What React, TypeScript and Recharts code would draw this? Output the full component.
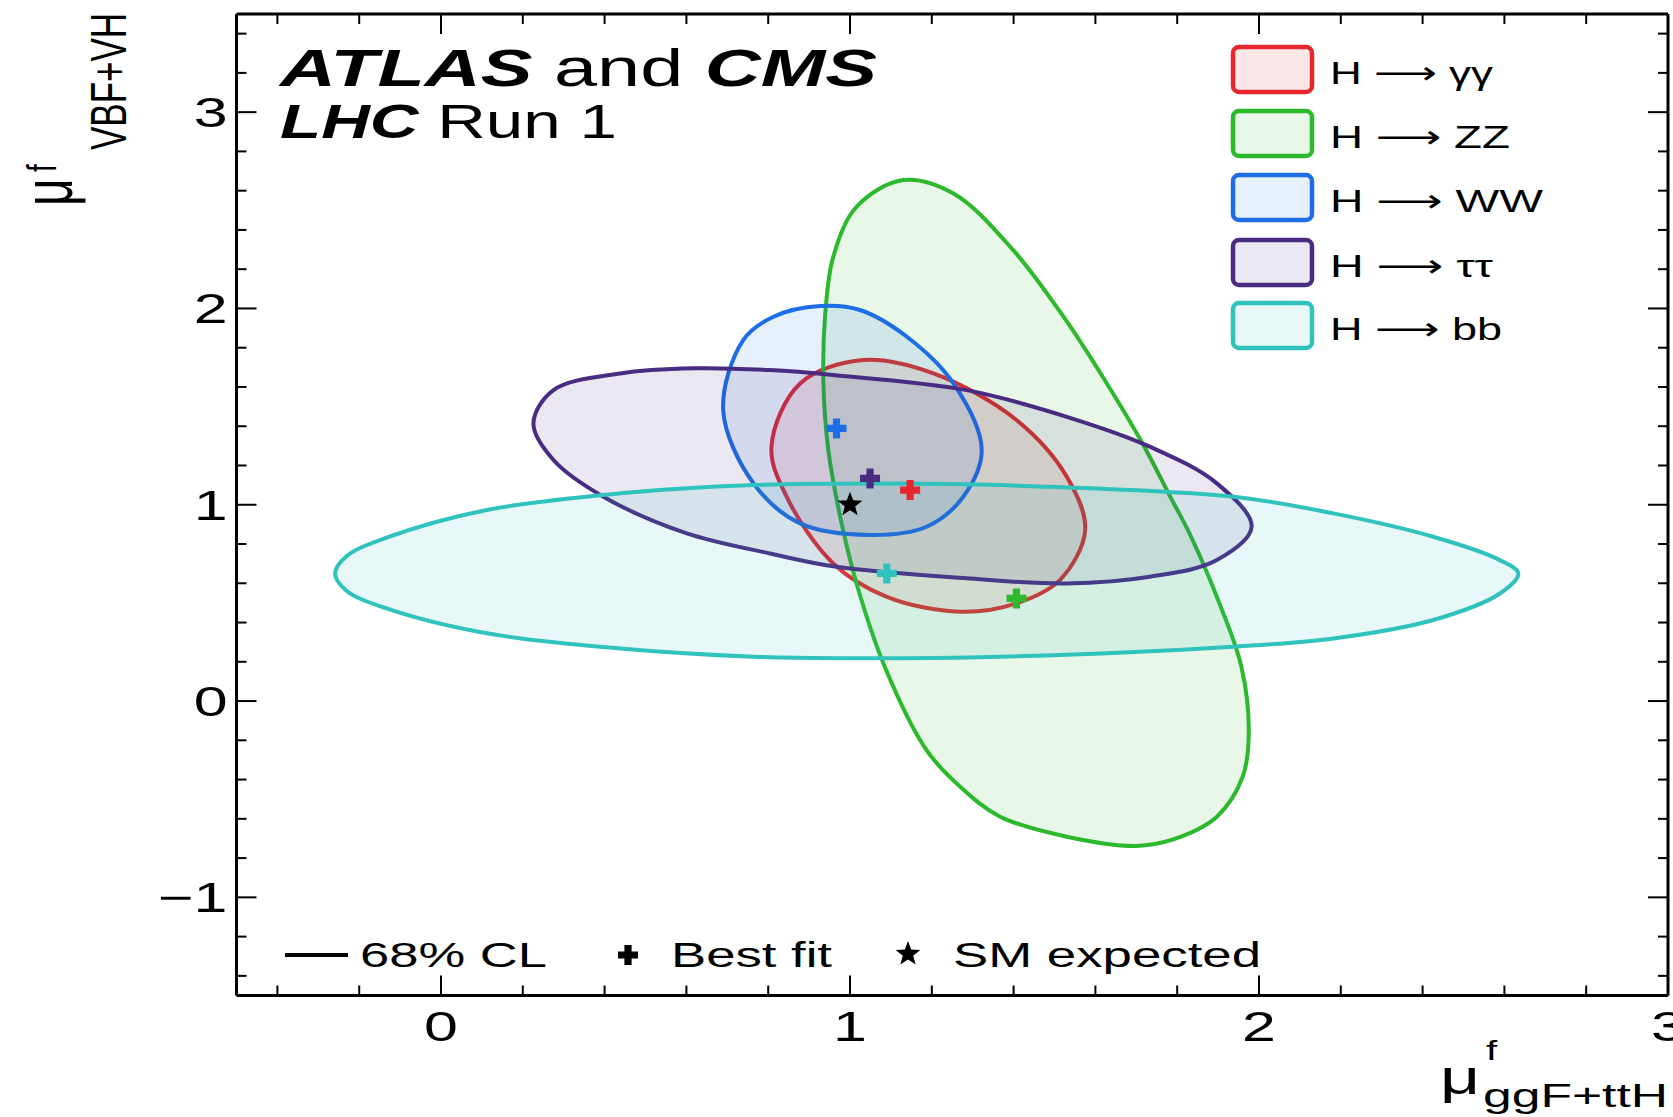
import React from "react";
import { ComposedChart, Scatter, XAxis, YAxis } from "recharts";

const FONT = '"Liberation Sans", Arial, Helvetica, sans-serif';
const ARROW_FONT = '"DejaVu Sans", sans-serif';
const STRETCH = 1.45;

const CHANNEL_HEAD = "H ";
const CHANNEL_TAIL = [" γγ", " ZZ", " WW", " ττ", " bb"];
const CHANNELS = ["H → γγ", "H → ZZ", "H → WW", "H → ττ", "H → bb"];
const LINE_COLORS = ["#e8262e", "#2cb92c", "#1c6de6", "#4a2b82", "#30c2bd"];
const LEGEND_TEXT_WIDTH = [163, 180, 213, 163, 172];

// 68% CL contours (going round each contour)
const GG_X = [1.033, 1.204, 1.407, 1.53, 1.575, 1.513, 1.407, 1.269, 1.09, 0.959, 0.845, 0.808, 0.878];
const GG_Y = [1.737, 1.669, 1.432, 1.143, 0.871, 0.616, 0.498, 0.455, 0.531, 0.701, 1.041, 1.296, 1.618];

const ZZ_X = [1.13, 1.253, 1.399, 1.522, 1.628, 1.715, 1.783, 1.83, 1.9, 1.957, 1.975, 1.96, 1.897, 1.79, 1.7, 1.53, 1.367, 1.269, 1.187, 1.085, 1.016, 0.976, 0.947, 0.935, 0.939, 0.959, 1.016];
const ZZ_Y = [2.654, 2.586, 2.297, 1.958, 1.618, 1.313, 1.041, 0.854, 0.515, 0.175, -0.165, -0.386, -0.589, -0.705, -0.738, -0.691, -0.589, -0.436, -0.25, 0.175, 0.599, 0.939, 1.279, 1.618, 1.958, 2.263, 2.518];

const WW_X = [0.927, 1.024, 1.139, 1.253, 1.322, 1.277, 1.187, 1.049, 0.878, 0.764, 0.69, 0.739, 0.813];
const WW_Y = [2.012, 1.992, 1.856, 1.618, 1.279, 1.041, 0.888, 0.846, 0.905, 1.109, 1.482, 1.839, 1.958];

const TT_X = [0.226, 0.275, 0.438, 0.62, 0.804, 0.959, 1.285, 1.53, 1.733, 1.897, 1.982, 1.897, 1.733, 1.53, 1.285, 0.967, 0.804, 0.601, 0.397, 0.275];
const TT_Y = [1.415, 1.584, 1.669, 1.695, 1.686, 1.661, 1.584, 1.448, 1.296, 1.109, 0.888, 0.718, 0.633, 0.599, 0.625, 0.684, 0.752, 0.854, 1.041, 1.228];

const BB_X = [-0.259, -0.231, -0.133, 0.112, 0.438, 0.764, 1.1, 1.367, 1.937, 2.182, 2.426, 2.589, 2.634, 2.589, 2.426, 2.182, 1.937, 1.367, 0.967, 0.764, 0.438, 0.112, -0.133, -0.231];
const BB_Y = [0.65, 0.738, 0.832, 0.973, 1.058, 1.1, 1.108, 1.1, 1.041, 0.956, 0.837, 0.718, 0.65, 0.548, 0.413, 0.319, 0.277, 0.226, 0.218, 0.226, 0.268, 0.345, 0.472, 0.562];

const CONTOUR_X = [GG_X, ZZ_X, WW_X, TT_X, BB_X];
const CONTOUR_Y = [GG_Y, ZZ_Y, WW_Y, TT_Y, BB_Y];

// best fit points, same channel order
const BEST_X = [1.147, 1.407, 0.967, 1.049, 1.09];
const BEST_Y = [1.075, 0.523, 1.389, 1.134, 0.65];

const SM_X = [1];
const SM_Y = [1];

const X_TICKS = [-0.4, -0.2, 0, 0.2, 0.4, 0.6, 0.8, 1, 1.2, 1.4, 1.6, 1.8, 2, 2.2, 2.4, 2.6, 2.8, 3];
const Y_TICKS = [-1.4, -1.2, -1, -0.8, -0.6, -0.4, -0.2, 0, 0.2, 0.4, 0.6, 0.8, 1, 1.2, 1.4, 1.6, 1.8, 2, 2.2, 2.4, 2.6, 2.8, 3, 3.2, 3.4];

const isMajor = (v: number) => Math.abs(v - Math.round(v)) < 1e-6;
const fmt = (v: number) => (v < 0 ? "\u2212" + Math.abs(v) : String(v));

const MAJOR = 20;
const MINOR = 10;

const BottomTick = (p: any) => {
  const v = p.payload.value;
  const m = isMajor(v);
  return (
    <g>
      <line x1={p.x} x2={p.x} y1={p.y} y2={p.y - (m ? MAJOR : MINOR)} stroke="#000" strokeWidth={2} />
      {m && (
        <text transform={`translate(${p.x},${p.y + 45}) scale(${STRETCH},1)`} textAnchor="middle" fontSize={42} fontFamily={FONT} fill="#000">
          {fmt(v)}
        </text>
      )}
    </g>
  );
};

const TopTick = (p: any) => {
  const m = isMajor(p.payload.value);
  return <line x1={p.x} x2={p.x} y1={p.y} y2={p.y + (m ? MAJOR : MINOR)} stroke="#000" strokeWidth={2} />;
};

const LeftTick = (p: any) => {
  const v = p.payload.value;
  const m = isMajor(v);
  return (
    <g>
      <line x1={p.x} x2={p.x + (m ? MAJOR : MINOR)} y1={p.y} y2={p.y} stroke="#000" strokeWidth={2} />
      {m && (
        <text transform={`translate(${p.x - 9},${p.y + 15}) scale(${STRETCH},1)`} textAnchor="end" fontSize={42} fontFamily={FONT} fill="#000">
          {fmt(v)}
        </text>
      )}
    </g>
  );
};

const RightTick = (p: any) => {
  const m = isMajor(p.payload.value);
  return <line x1={p.x} x2={p.x - (m ? MAJOR : MINOR)} y1={p.y} y2={p.y} stroke="#000" strokeWidth={2} />;
};

// closed centripetal Catmull-Rom curve through the contour points
function closedPath(pts: { x: number; y: number }[]) {
  const n = pts.length;
  const dist = (a: any, b: any) => Math.sqrt(Math.hypot(b.x - a.x, b.y - a.y)) || 1e-6;
  let d = `M${pts[0].x},${pts[0].y}`;
  for (let i = 0; i < n; i++) {
    const p0 = pts[(i - 1 + n) % n];
    const p1 = pts[i];
    const p2 = pts[(i + 1) % n];
    const p3 = pts[(i + 2) % n];
    const d1 = dist(p0, p1);
    const d2 = dist(p1, p2);
    const d3 = dist(p2, p3);
    const a1 = 2 * d1 * d1 + 3 * d1 * d2 + d2 * d2;
    const n1 = 3 * d1 * (d1 + d2);
    const a2 = 2 * d3 * d3 + 3 * d3 * d2 + d2 * d2;
    const n2 = 3 * d3 * (d3 + d2);
    const c1x = (d1 * d1 * p2.x - d2 * d2 * p0.x + a1 * p1.x) / n1;
    const c1y = (d1 * d1 * p2.y - d2 * d2 * p0.y + a1 * p1.y) / n1;
    const c2x = (d3 * d3 * p1.x - d2 * d2 * p3.x + a2 * p2.x) / n2;
    const c2y = (d3 * d3 * p1.y - d2 * d2 * p3.y + a2 * p2.y) / n2;
    d += ` C${c1x},${c1y} ${c2x},${c2y} ${p2.x},${p2.y}`;
  }
  return d + " Z";
}

const ContourPath = (props: any) => {
  if (!props.points || props.points.length < 3) return null;
  return (
    <path
      d={closedPath(props.points)}
      fill={props.lineColor}
      fillOpacity={0.11}
      stroke={props.lineColor}
      strokeWidth={4}
    />
  );
};

const NoDot = () => <g />;

const PlusShape = (p: any) => {
  const { cx, cy } = p;
  const a = 10;
  const t = 3.6;
  const d = `M${cx - t},${cy - a} H${cx + t} V${cy - t} H${cx + a} V${cy + t} H${cx + t} V${cy + a} H${cx - t} V${cy + t} H${cx - a} V${cy - t} H${cx - t} Z`;
  return <path d={d} fill={p.payload.color} />;
};

function starPath(cx: number, cy: number, r: number) {
  let d = "";
  for (let i = 0; i < 10; i++) {
    const rr = i % 2 === 0 ? r : r * 0.42;
    const ang = -Math.PI / 2 + (i * Math.PI) / 5;
    d += `${i === 0 ? "M" : "L"}${cx + rr * Math.cos(ang)},${cy + rr * Math.sin(ang)}`;
  }
  return d + "Z";
}

const StarShape = (p: any) => <path d={starPath(p.cx, p.cy, 13)} fill="#000" />;

const contourData = CONTOUR_X.map((xs, i) => xs.map((x, j) => ({ x, y: CONTOUR_Y[i][j] })));
const bestData = BEST_X.map((x, i) => ({ x, y: BEST_Y[i], color: LINE_COLORS[i] }));
const smData = SM_X.map((x, i) => ({ x, y: SM_Y[i] }));

const LEGEND_BASE = [84, 148, 212, 277, 340];

const axisLine = { stroke: "#000", strokeWidth: 3 };

export default function App() {
  return (
    <div style={{ position: "absolute", left: 0, top: 0, background: "#fff" }}>
      <ComposedChart width={1673} height={1117} margin={{ top: 13, right: 4, bottom: 120.5, left: 235.5 }}>
        <XAxis
          xAxisId="b"
          dataKey="x"
          type="number"
          domain={[-0.5, 3]}
          allowDataOverflow
          ticks={X_TICKS}
          interval={0}
          height={1}
          tickSize={0}
          tickMargin={0}
          tickLine={false}
          tick={BottomTick}
          axisLine={axisLine}
        />
        <XAxis
          xAxisId="t"
          orientation="top"
          dataKey="x"
          type="number"
          domain={[-0.5, 3]}
          allowDataOverflow
          ticks={X_TICKS}
          interval={0}
          height={1}
          tickSize={0}
          tickMargin={0}
          tickLine={false}
          tick={TopTick}
          axisLine={axisLine}
        />
        <YAxis
          yAxisId="l"
          dataKey="y"
          type="number"
          domain={[-1.5, 3.5]}
          allowDataOverflow
          ticks={Y_TICKS}
          interval={0}
          width={1}
          tickSize={0}
          tickMargin={0}
          tickLine={false}
          tick={LeftTick}
          axisLine={axisLine}
        />
        <YAxis
          yAxisId="r"
          orientation="right"
          dataKey="y"
          type="number"
          domain={[-1.5, 3.5]}
          allowDataOverflow
          ticks={Y_TICKS}
          interval={0}
          width={1}
          tickSize={0}
          tickMargin={0}
          tickLine={false}
          tick={RightTick}
          axisLine={axisLine}
        />

        {contourData.map((data, i) => (
          <Scatter
            key={CHANNELS[i]}
            name={CHANNELS[i]}
            xAxisId="b"
            yAxisId="l"
            data={data}
            line={<ContourPath lineColor={LINE_COLORS[i]} />}
            lineType="joint"
            shape={NoDot}
            isAnimationActive={false}
          />
        ))}
        <Scatter name="Best fit" xAxisId="b" yAxisId="l" data={bestData} shape={PlusShape} isAnimationActive={false} />
        <Scatter name="SM expected" xAxisId="b" yAxisId="l" data={smData} shape={StarShape} isAnimationActive={false} />

        {/* experiment label */}
        <text x={280} y={86} fontSize={51} fontFamily={FONT} textLength={597} lengthAdjust="spacingAndGlyphs" fill="#000">
          <tspan fontWeight="bold" fontStyle="italic">ATLAS</tspan>
          <tspan> and </tspan>
          <tspan fontWeight="bold" fontStyle="italic">CMS</tspan>
        </text>
        <text x={280} y={138} fontSize={49} fontFamily={FONT} textLength={337} lengthAdjust="spacingAndGlyphs" fill="#000">
          <tspan fontWeight="bold" fontStyle="italic">LHC</tspan>
          <tspan> Run 1</tspan>
        </text>

        {/* channel legend */}
        {CHANNELS.map((c, i) => (
          <g key={c}>
            <rect x={1233} y={LEGEND_BASE[i] - 37} width={79} height={45} rx={6} fill={LINE_COLORS[i]} fillOpacity={0.11} stroke={LINE_COLORS[i]} strokeWidth={4.5} />
            <text x={1330} y={LEGEND_BASE[i]} fontSize={32} fontFamily={FONT} textLength={LEGEND_TEXT_WIDTH[i]} lengthAdjust="spacingAndGlyphs" fill="#000">
              <tspan>{CHANNEL_HEAD}</tspan>
              <tspan fontFamily={ARROW_FONT}>{"⟶"}</tspan>
              <tspan>{CHANNEL_TAIL[i]}</tspan>
            </text>
          </g>
        ))}

        {/* bottom legend */}
        <line x1={285} x2={348} y1={955} y2={955} stroke="#000" strokeWidth={4} />
        <text x={360} y={967} fontSize={35} fontFamily={FONT} textLength={187} lengthAdjust="spacingAndGlyphs" fill="#000">68% CL</text>
        <PlusShape cx={628} cy={955} payload={{ color: "#000" }} />
        <text x={671} y={967} fontSize={35} fontFamily={FONT} textLength={161} lengthAdjust="spacingAndGlyphs" fill="#000">Best fit</text>
        <StarShape cx={908} cy={954} />
        <text x={953} y={967} fontSize={35} fontFamily={FONT} textLength={308} lengthAdjust="spacingAndGlyphs" fill="#000">SM expected</text>

        {/* axis titles */}
        <text transform={`translate(1440,1094) scale(${STRETCH},1)`} fontSize={48} fontFamily={FONT} fill="#000">μ</text>
        <text transform={`translate(1486,1060) scale(${STRETCH},1)`} fontSize={28} fontFamily={FONT} fill="#000">f</text>
        <text x={1483} y={1107} fontSize={33} fontFamily={FONT} textLength={185} lengthAdjust="spacingAndGlyphs" fill="#000">ggF+ttH</text>

        <text transform={`translate(72,206) scale(${STRETCH},1) rotate(-90)`} fontSize={48} fontFamily={FONT} fill="#000">μ</text>
        <text transform={`translate(56,172) scale(${STRETCH},1) rotate(-90)`} fontSize={28} fontFamily={FONT} fill="#000">f</text>
        <text transform={`translate(126,150) scale(${STRETCH},1) rotate(-90)`} fontSize={34} fontFamily={FONT} textLength={137} lengthAdjust="spacingAndGlyphs" fill="#000">VBF+VH</text>
      </ComposedChart>
    </div>
  );
}
